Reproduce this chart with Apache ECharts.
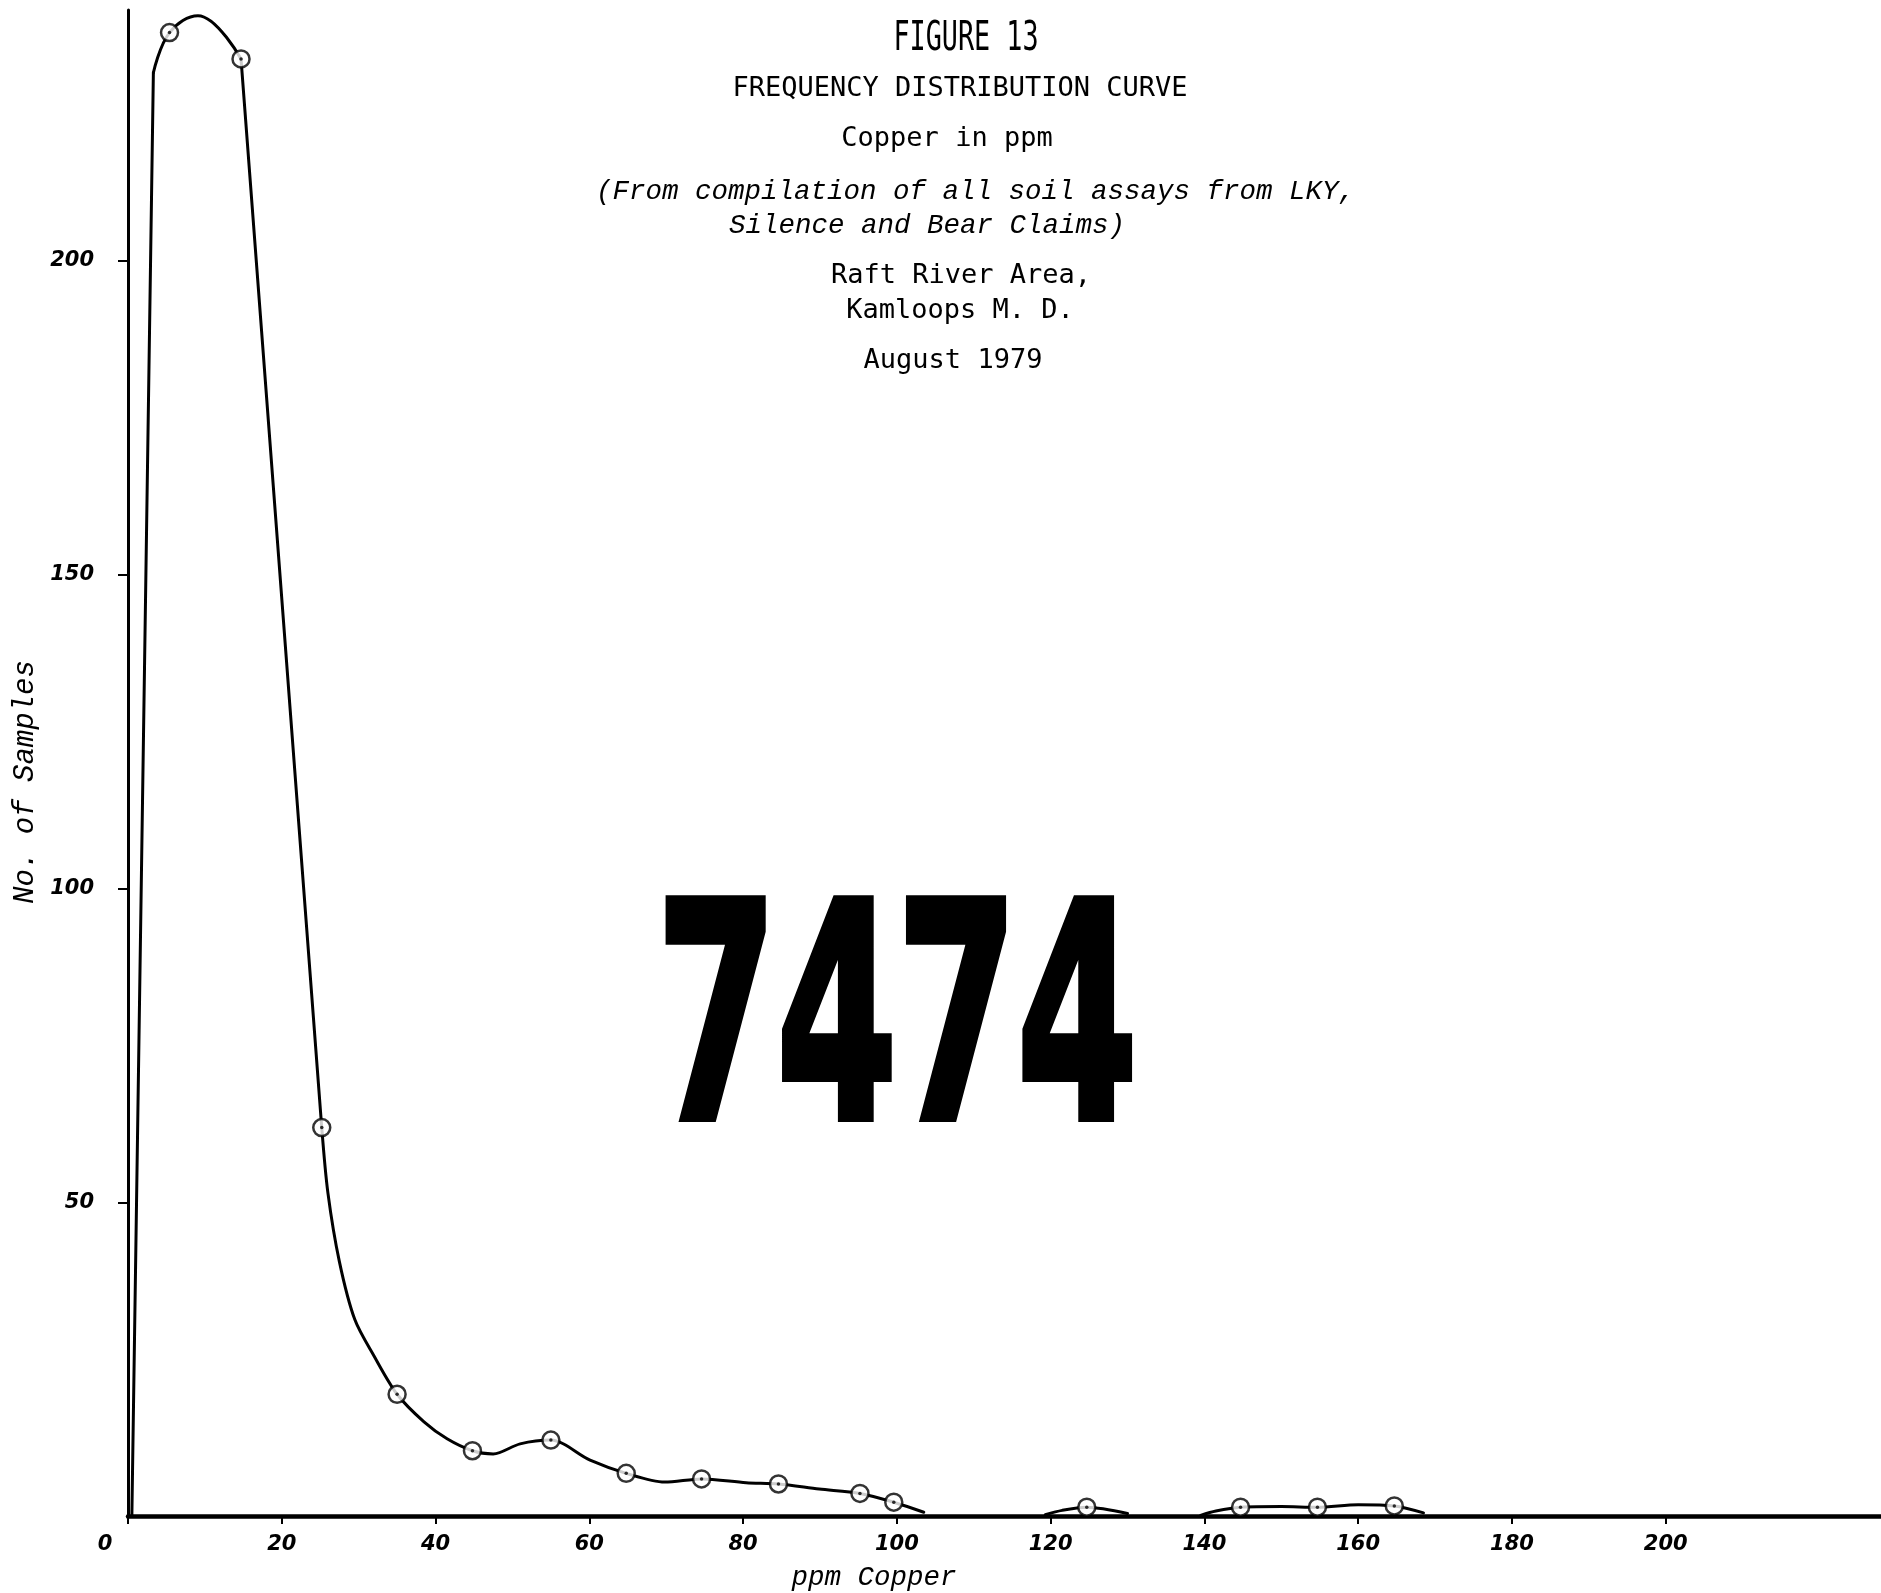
<!DOCTYPE html>
<html><head><meta charset="utf-8">
<script src="https://cdn.jsdelivr.net/npm/echarts@6/dist/echarts.min.js"></script>
<style>html,body{margin:0;padding:0;background:#fff}#c{width:1881px;height:1593px}</style>
</head><body><div id="c"></div>
<script>
// Observed frequency points: class midpoint (ppm Cu) and number of samples
const pointX = [5.4, 14.7, 25.2, 35.0, 44.8, 55.0, 64.8, 74.6, 84.6, 95.2, 99.6, 124.7, 144.7, 154.7, 164.7];
const pointY = [236.4, 232.2, 61.9, 19.4, 10.4, 12.1, 6.8, 5.9, 5.1, 3.6, 2.2, 1.4, 1.4, 1.4, 1.6];

// Hand-drawn curve path, split into straight and curved pieces
const riseX = [0.5, 3.3];                 // straight rise from origin
const riseY = [0, 230];
const peakX = [3.3, 5.4, 9.1, 14.7];      // rounded peak
const peakY = [230, 236.4, 239.1, 232.2];
const dropX = [14.7, 25.2];               // straight drop
const dropY = [232.2, 61.9];
const tailX = [25.2, 26.0, 27.5, 29.5, 32.0, 35.0, 38.5, 41.5, 44.8, 47.5, 51.0, 55.0, 60.1, 64.8, 69.8, 74.6, 80.4, 84.6, 89.9, 95.2, 99.6, 103.5];
const tailY = [61.9, 51.5, 40.5, 31.3, 25.5, 19.4, 15.0, 12.3, 10.4, 9.9, 11.5, 12.1, 8.9, 6.8, 5.4, 5.9, 5.3, 5.1, 4.3, 3.6, 2.2, 0.6];
const curve2X = [119.3, 121.5, 124.7, 130.0];
const curve2Y = [0.2, 0.9, 1.4, 0.4];
const curve3X = [139.5, 141.5, 144.7, 150.0, 154.7, 160.0, 164.7, 168.5];
const curve3Y = [0.1, 0.8, 1.4, 1.5, 1.4, 1.8, 1.6, 0.5];

// Axis tick values
const xTicks = [0, 20, 40, 60, 80, 100, 120, 140, 160, 180, 200];
const yTicks = [50, 100, 150, 200];

// Texts
const figureTitle = 'FIGURE 13';
const titleLines = ['FREQUENCY DISTRIBUTION CURVE', 'Copper in ppm'];
const italicLines = ['(From compilation of all soil assays from LKY,', 'Silence and Bear Claims)'];
const placeLines = ['Raft River Area,', 'Kamloops M. D.', 'August 1979'];
const stampText = '7474';
const xName = 'ppm Copper';
const yName = 'No. of Samples';

const zip = (xs, ys) => xs.map((x, i) => [x, ys[i]]);
const lineSeries = (xs, ys, smooth) => ({
  type: 'line', data: zip(xs, ys), smooth: smooth, symbol: 'none', silent: true,
  lineStyle: { color: '#000', width: 3, cap: 'round', join: 'round' }, z: 2
});

const tickFont = { color: '#000', fontFamily: '"DejaVu Sans"', fontStyle: 'italic', fontWeight: 'bold', fontSize: 21 };
const mono = '"DejaVu Sans Mono"';
const monoItalic = 'italic 27.5px "Liberation Mono"';

const chart = echarts.init(document.getElementById('c'), null, { renderer: 'canvas' });
chart.setOption({
  animation: false,
  backgroundColor: '#fff',
  grid: { left: 128, right: 0, top: 10, bottom: 77, containLabel: false },
  xAxis: {
    type: 'value', min: 0, max: 228, interval: 20,
    axisLine: { show: true, onZero: false, lineStyle: { color: '#000', width: 4.5 } },
    axisTick: { show: true, length: 8, customValues: xTicks, lineStyle: { color: '#000', width: 2 } },
    axisLabel: Object.assign({
      customValues: xTicks, margin: 18,
      formatter: v => v === 0 ? '{z|0}' : String(v),
      rich: { z: { padding: [0, 46, 0, 0], fontSize: 21, fontStyle: 'italic', fontWeight: 'bold', fontFamily: '"DejaVu Sans"', color: '#000' } }
    }, tickFont),
    splitLine: { show: false }
  },
  yAxis: {
    type: 'value', min: 0, max: 240, interval: 50,
    axisLine: { show: true, onZero: false, lineStyle: { color: '#000', width: 3 } },
    axisTick: { show: true, length: 10, customValues: yTicks, lineStyle: { color: '#000', width: 2 } },
    axisLabel: Object.assign({ customValues: yTicks, margin: 34 }, tickFont),
    splitLine: { show: false }
  },
  series: [
    lineSeries(riseX, riseY, false),
    lineSeries(peakX, peakY, 0.4),
    lineSeries(dropX, dropY, false),
    lineSeries(tailX, tailY, 0.3),
    lineSeries(curve2X, curve2Y, 0.3),
    lineSeries(curve3X, curve3Y, 0.3),
    { type: 'scatter', data: zip(pointX, pointY), symbol: 'circle', symbolSize: 17, silent: true, z: 3,
      itemStyle: { color: '#fff', borderColor: '#000', borderWidth: 2.5 } },
    { type: 'scatter', data: zip(pointX, pointY), symbol: 'circle', symbolSize: 3.5, silent: true, z: 4,
      itemStyle: { color: '#000' } }
  ],
  graphic: [
    { type: 'text', x: 966, y: 40, scaleX: 0.67, style: { text: figureTitle, font: '40px ' + mono, fill: '#000', textAlign: 'center', textVerticalAlign: 'middle' } },
    { type: 'text', x: 960, y: 89, style: { text: titleLines[0], font: '27px ' + mono, fill: '#000', textAlign: 'center', textVerticalAlign: 'middle' } },
    { type: 'text', x: 947, y: 139, style: { text: titleLines[1], font: '27px ' + mono, fill: '#000', textAlign: 'center', textVerticalAlign: 'middle' } },
    { type: 'text', x: 596, y: 192, style: { text: italicLines[0], font: monoItalic, fill: '#000', textAlign: 'left', textVerticalAlign: 'middle' } },
    { type: 'text', x: 729, y: 226, style: { text: italicLines[1], font: monoItalic, fill: '#000', textAlign: 'left', textVerticalAlign: 'middle' } },
    { type: 'text', x: 961, y: 276, style: { text: placeLines[0], font: '27px ' + mono, fill: '#000', textAlign: 'center', textVerticalAlign: 'middle' } },
    { type: 'text', x: 960, y: 311, style: { text: placeLines[1], font: '27px ' + mono, fill: '#000', textAlign: 'center', textVerticalAlign: 'middle' } },
    { type: 'text', x: 953, y: 361, style: { text: placeLines[2], font: '27px ' + mono, fill: '#000', textAlign: 'center', textVerticalAlign: 'middle' } },
    { type: 'text', x: 897, y: 1040, scaleX: 0.64, style: { text: stampText, font: 'bold 300px "DejaVu Sans Condensed", "DejaVu Sans"', fill: '#000', stroke: '#000', lineWidth: 8, textAlign: 'center', textVerticalAlign: 'middle' } },
    { type: 'text', x: 874, y: 1578, style: { text: xName, font: 'italic 27.5px "Liberation Mono"', fill: '#000', textAlign: 'center', textVerticalAlign: 'middle' } },
    { type: 'text', x: 25, y: 782, rotation: Math.PI / 2, style: { text: yName, font: 'italic 29px "Liberation Mono"', fill: '#000', textAlign: 'center', textVerticalAlign: 'middle' } }
  ]
});
</script>
</body></html>
